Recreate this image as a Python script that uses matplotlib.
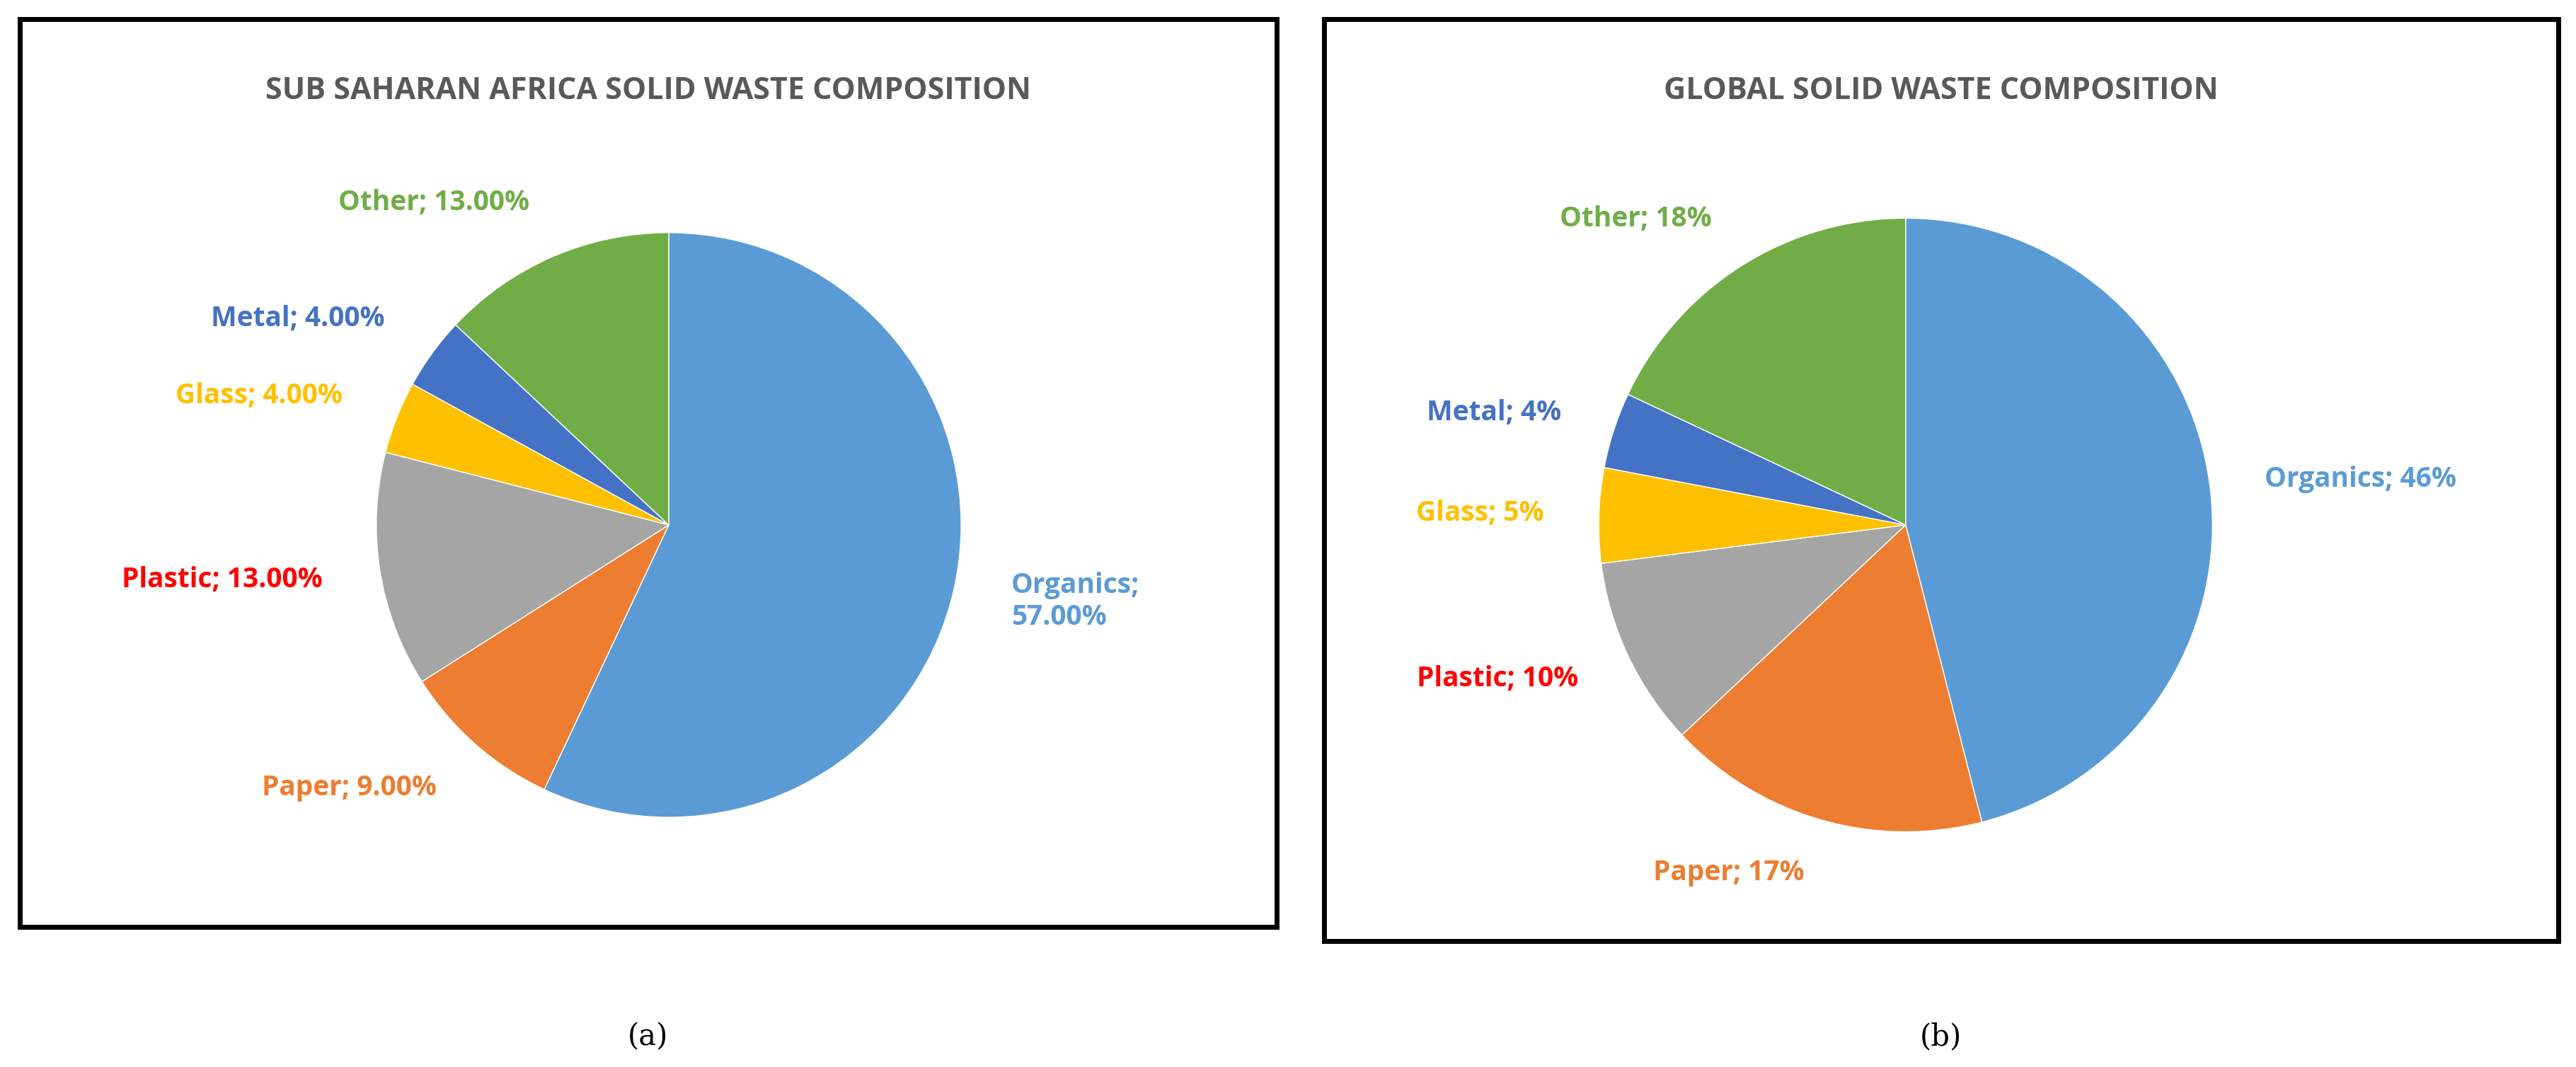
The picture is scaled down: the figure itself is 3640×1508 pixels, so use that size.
import matplotlib.pyplot as plt
from matplotlib.patches import Rectangle

cats = ['Organics', 'Paper', 'Plastic', 'Glass', 'Metal', 'Other']
ssa_vals = [57, 9, 13, 4, 4, 13]
ssa_labels = ['Organics;\n57.00%', 'Paper; 9.00%', 'Plastic; 13.00%',
              'Glass; 4.00%', 'Metal; 4.00%', 'Other; 13.00%']
glob_vals = [46, 17, 10, 5, 4, 18]
glob_labels = ['Organics; 46%', 'Paper; 17%', 'Plastic; 10%',
               'Glass; 5%', 'Metal; 4%', 'Other; 18%']

wedge_colors = ['#5B9BD5', '#ED7D31', '#A5A5A5', '#FFC000', '#4472C4', '#70AD47']
text_colors = ['#5B9BD5', '#ED7D31', '#FF0000', '#FFC000', '#4472C4', '#70AD47']

plt.rcParams['font.family'] = ['Open Sans', 'DejaVu Sans']
fig = plt.figure(figsize=(36.4, 15.08), dpi=100)

# panel frames
for x0, x1, y0 in [(0.0077, 0.4955, 0.131), (0.514, 0.993, 0.118)]:
    fig.patches.append(Rectangle((x0, y0), x1 - x0, 0.982 - y0, transform=fig.transFigure,
                                 fill=False, edgecolor='black', linewidth=5))

def draw(rect, vals, labels, title, title_x, ldist):
    ax = fig.add_axes(rect)
    wedges, texts = ax.pie(vals, labels=labels, startangle=90, counterclock=False,
                           colors=wedge_colors, labeldistance=ldist,
                           wedgeprops=dict(edgecolor='white', linewidth=1),
                           textprops=dict(fontsize=28, fontweight='bold'))
    for t, c in zip(texts, text_colors):
        t.set_color(c)
    ax.set_xlim(-1, 1)
    ax.set_ylim(-1, 1)
    ax.set_aspect('equal')
    fig.text(title_x, 0.915, title, ha='center', va='center', fontsize=31,
             fontweight='bold', color='#595959')

draw([0.2596 - 0.1135, 0.508 - 0.274, 0.227, 0.548], ssa_vals, ssa_labels,
     'SUB SAHARAN AFRICA SOLID WASTE COMPOSITION', 0.2516, 1.2)
draw([0.7398 - 0.1193, 0.508 - 0.2875, 0.2385, 0.575], glob_vals, glob_labels,
     'GLOBAL SOLID WASTE COMPOSITION', 0.7535, 1.18)

fig.text(0.2516, 0.028, '(a)', ha='center', va='center', fontsize=30, family='DejaVu Serif')
fig.text(0.7535, 0.028, '(b)', ha='center', va='center', fontsize=30, family='DejaVu Serif')

fig.savefig('out.png', dpi=100)
